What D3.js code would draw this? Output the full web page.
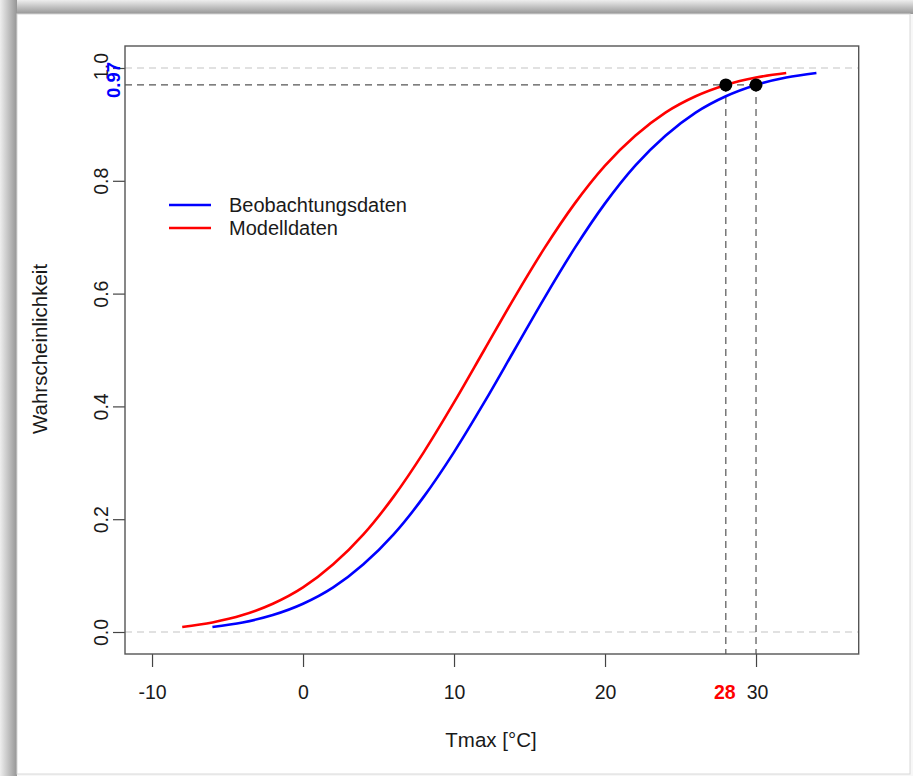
<!DOCTYPE html>
<html>
<head>
<meta charset="utf-8">
<script src="https://cdn.jsdelivr.net/npm/d3@7"></script>
<style>
  html, body { margin: 0; padding: 0; background: #fff; }
  svg { display: block; font-family: "Liberation Sans", Arial, sans-serif; }
</style>
</head>
<body>
<svg id="chart" width="913" height="776"></svg>
<script>
// ---- data ----
const modelTemps = [-8, -6, -4, -2, 0, 2, 4, 6, 8, 10, 12, 14, 16, 18, 20, 22, 24, 26, 28, 30, 32];
const modelProb  = [0.009, 0.017, 0.030, 0.050, 0.079, 0.120, 0.173, 0.240, 0.319, 0.407, 0.500,
                    0.593, 0.681, 0.760, 0.827, 0.880, 0.921, 0.950, 0.970, 0.983, 0.991];
const obsTemps   = [-6, -4, -2, 0, 2, 4, 6, 8, 10, 12, 14, 16, 18, 20, 22, 24, 26, 28, 30, 32, 34];
const obsProb    = [0.009, 0.017, 0.030, 0.050, 0.079, 0.120, 0.173, 0.240, 0.319, 0.407, 0.500,
                    0.593, 0.681, 0.760, 0.827, 0.880, 0.921, 0.950, 0.970, 0.983, 0.991];
const xTicks = [-10, 0, 10, 20, 30];
const yTicks = [0.0, 0.2, 0.4, 0.6, 0.8, 1.0];
const markTemps = [28, 30];
const markProb = 0.97;
const seriesNames = ["Beobachtungsdaten", "Modelldaten"];
const seriesColors = ["#0000ff", "#ff0000"];

(function () {
const svg = d3.select("#chart");
const FS = 19.5;
const textCol = "#1a1a1a";

// ---- frame with shadow ----
const defs = svg.append("defs");
const gl = defs.append("linearGradient").attr("id", "gLeft").attr("x1", "0").attr("x2", "1").attr("y1", "0").attr("y2", "0");
gl.append("stop").attr("offset", "0").attr("stop-color", "#eeeeee");
gl.append("stop").attr("offset", "1").attr("stop-color", "#959595");
const gt = defs.append("linearGradient").attr("id", "gTop").attr("x1", "0").attr("x2", "0").attr("y1", "0").attr("y2", "1");
gt.append("stop").attr("offset", "0").attr("stop-color", "#eeeeee");
gt.append("stop").attr("offset", "1").attr("stop-color", "#959595");
svg.append("rect").attr("x", 0).attr("y", 0).attr("width", 913).attr("height", 776).attr("fill", "#f7f7f7");
svg.append("rect").attr("x", 0).attr("y", 0).attr("width", 913).attr("height", 14).attr("fill", "url(#gTop)");
svg.append("rect").attr("x", 0).attr("y", 0).attr("width", 17).attr("height", 776).attr("fill", "url(#gLeft)");
svg.append("rect").attr("x", 17).attr("y", 14).attr("width", 893).attr("height", 760)
  .attr("fill", "#fff").attr("stroke", "#d8d8d8").attr("stroke-width", 1);

// ---- scales ----
const pL = 125, pR = 858.7, pT = 46, pB = 654;
const x = d3.scaleLinear().domain([-11.79, 36.8]).range([pL, pR]);
const y = d3.scaleLinear().domain([-0.039, 1.039]).range([pB, pT]);

// ---- axes ----
const xAxis = svg.append("g").attr("transform", `translate(0,${pB})`)
  .call(d3.axisBottom(x).tickValues(xTicks).tickSize(13).tickFormat(d => d));
xAxis.select(".domain").remove();
xAxis.selectAll("line").attr("stroke", "#444").attr("stroke-width", 1.2);
xAxis.selectAll("text").attr("font-size", FS).attr("fill", textCol)
  .attr("font-family", "Liberation Sans, Arial, sans-serif")
  .attr("y", 45).attr("dy", null);
xAxis.selectAll(".tick").filter(d => d === 30).select("text").attr("dx", 1);

const yAxis = svg.append("g").attr("transform", `translate(${pL},0)`)
  .call(d3.axisLeft(y).tickValues(yTicks).tickSize(12).tickFormat(d3.format(".1f")));
yAxis.select(".domain").remove();
yAxis.selectAll("line").attr("stroke", "#444").attr("stroke-width", 1.2);
yAxis.selectAll("text")
  .attr("font-size", FS).attr("fill", textCol)
  .attr("font-family", "Liberation Sans, Arial, sans-serif")
  .attr("x", null).attr("dy", null)
  .attr("text-anchor", "middle")
  .attr("transform", "translate(-17,0) rotate(-90)");
yAxis.selectAll(".tick").filter(d => d === 1.0).select("text")
  .attr("transform", "translate(-17,-2) rotate(-90)");

// extra labels 28 (x) and 0.97 (y)
svg.append("text").attr("x", x(markTemps[0]) - 1).attr("y", pB + 45)
  .attr("text-anchor", "middle").attr("font-size", FS).attr("font-weight", "bold")
  .attr("fill", "#ff0000").text(markTemps[0]);
svg.append("text").attr("transform", `translate(${pL - 5},${y(markProb) - 5}) rotate(-90)`)
  .attr("text-anchor", "middle").attr("font-size", 18.5).attr("font-weight", "bold")
  .attr("fill", "#0000ff").text(markProb.toFixed(2));

// ---- reference lines ----
[0, 1].forEach(v => {
  svg.append("line").attr("x1", pL).attr("x2", pR).attr("y1", y(v)).attr("y2", y(v))
    .attr("stroke", "#c4c4c4").attr("stroke-width", 1.1).attr("stroke-dasharray", "7,5");
});
svg.append("line").attr("x1", pL).attr("x2", x(markTemps[1])).attr("y1", y(markProb)).attr("y2", y(markProb))
  .attr("stroke", "#555").attr("stroke-width", 1.2).attr("stroke-dasharray", "7,5");
markTemps.forEach(t => {
  svg.append("line").attr("x1", x(t)).attr("x2", x(t)).attr("y1", y(markProb)).attr("y2", pB)
    .attr("stroke", "#555").attr("stroke-width", 1.2).attr("stroke-dasharray", "7,5");
});

// ---- curves ----
const line = d3.line().curve(d3.curveMonotoneX).x(d => x(d[0])).y(d => y(d[1]));
svg.append("path").datum(modelTemps.map((t, i) => [t, modelProb[i]]))
  .attr("d", line).attr("fill", "none").attr("stroke", seriesColors[1]).attr("stroke-width", 2.6);
svg.append("path").datum(obsTemps.map((t, i) => [t, obsProb[i]]))
  .attr("d", line).attr("fill", "none").attr("stroke", seriesColors[0]).attr("stroke-width", 2.6);

// ---- points ----
svg.selectAll("circle.mk").data(markTemps).enter().append("circle")
  .attr("cx", d => x(d)).attr("cy", y(markProb)).attr("r", 6.5).attr("fill", "#000");

// ---- box ----
svg.append("rect").attr("x", pL).attr("y", pT).attr("width", pR - pL).attr("height", pB - pT)
  .attr("fill", "none").attr("stroke", "#555").attr("stroke-width", 1.4);

// ---- legend ----
seriesNames.forEach((name, i) => {
  const ly = 205 + i * 23;
  svg.append("line").attr("x1", 169).attr("x2", 211).attr("y1", ly).attr("y2", ly)
    .attr("stroke", seriesColors[i]).attr("stroke-width", 2.6);
  svg.append("text").attr("x", 229).attr("y", ly + 7).attr("font-size", 20)
    .attr("fill", textCol).text(name);
});

// ---- axis titles ----
svg.append("text").attr("x", 491).attr("y", 747).attr("text-anchor", "middle")
  .attr("font-size", 20.5).attr("fill", textCol).text("Tmax [°C]");
svg.append("text").attr("transform", "translate(47,349) rotate(-90)").attr("text-anchor", "middle")
  .attr("font-size", 20.5).attr("fill", textCol).text("Wahrscheinlichkeit");
})();
</script>
</body>
</html>
